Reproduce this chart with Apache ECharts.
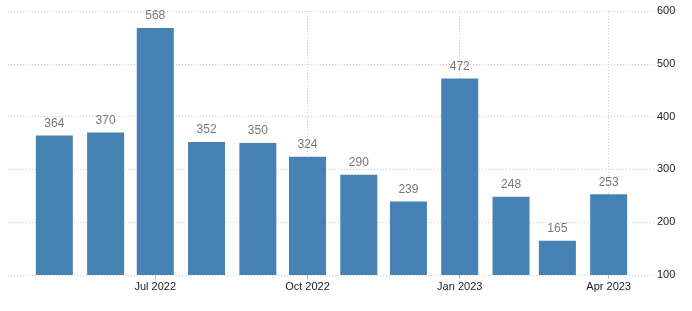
<!DOCTYPE html>
<html><head><meta charset="utf-8">
<script src="https://cdn.jsdelivr.net/npm/echarts@6/dist/echarts.min.js"></script>
<style>html,body{margin:0;padding:0;background:#fff}#c{width:692px;height:311px}</style>
</head><body><div id="c"></div>
<script>
var months = ['2022-05','2022-06','2022-07','2022-08','2022-09','2022-10','2022-11','2022-12','2023-01','2023-02','2023-03','2023-04'];
var values = [364,370,568,352,350,324,290,239,472,248,165,253];
var tickMonths = ['2022-07','2022-10','2023-01','2023-04'];
var monthNames = ['Jan','Feb','Mar','Apr','May','Jun','Jul','Aug','Sep','Oct','Nov','Dec'];

function ts(m){var p=m.split('-');return Date.UTC(+p[0],+p[1]-1,1);}
var DAY=86400000;
var data = months.map(function(m,i){return [ts(m), values[i]];});
var tickVals = tickMonths.map(ts);
var xmin = ts('2022-05') - 28*DAY;
var xmax = ts('2023-04') + 28*DAY;
var FONT = 'Liberation Sans';

var chart = echarts.init(document.getElementById('c'));
chart.setOption({
  animation:false,
  grid:{left:8,right:37,top:11,bottom:36,containLabel:false},
  xAxis:{
    type:'value', min:xmin, max:xmax,
    axisLine:{show:false},
    splitLine:{show:false},
    axisTick:{show:true, customValues:tickVals, length:4, lineStyle:{color:'#bbb'}},
    axisLabel:{customValues:tickVals, color:'#1a1a2a', fontSize:11, fontFamily:FONT, margin:6,
      formatter:function(v){var d=new Date(v);return monthNames[d.getUTCMonth()]+' '+d.getUTCFullYear();}}
  },
  yAxis:{
    type:'value', position:'right', min:100, max:600, interval:100,
    axisLine:{show:false}, axisTick:{show:false},
    axisLabel:{color:'#1a1a2a', fontSize:11, fontFamily:FONT, margin:2},
    splitLine:{show:true, lineStyle:{color:'#ccc', type:[1,2]}}
  },
  series:[
    {type:'line', data:[], z:0, silent:true,
      markLine:{silent:true, z:0, zlevel:0, symbol:'none', label:{show:false},
        lineStyle:{color:'#ccc', type:[1,2], width:1},
        data:tickVals.map(function(v){return {xAxis:v};})}},
    {type:'bar', data:data, barWidth:37, z:3,
      itemStyle:{color:'#4682B4'},
      label:{show:true, position:'top', distance:6, color:'#777', fontSize:12, fontFamily:FONT}}
  ]
});
</script></body></html>
